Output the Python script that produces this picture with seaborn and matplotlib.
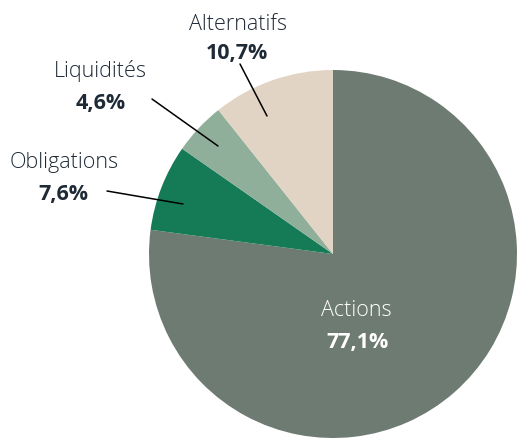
import matplotlib
matplotlib.use("Agg")
import matplotlib.pyplot as plt
import seaborn as sns

categories = ["Actions", "Obligations", "Liquidités", "Alternatifs"]
values = [77.1, 7.6, 4.6, 10.7]
pct_labels = ["77,1%", "7,6%", "4,6%", "10,7%"]
colors = ["#6e7b72", "#157b57", "#8faf9a", "#e2d4c4"]

sns.set_theme(style="white")
plt.rcParams["font.family"] = ["Open Sans", "DejaVu Sans"]

W, H = 517, 439
fig = plt.figure(figsize=(W / 100, H / 100), dpi=100)
ax = fig.add_axes([0, 0, 1, 1])

cx, cy, r = 333, H - 255, 184
ax.pie(values, colors=colors, startangle=90, counterclock=False,
       center=(cx, cy), radius=r, wedgeprops=dict(linewidth=0),
       frame=True)
ax.set_xlim(0, W)
ax.set_ylim(0, H)
ax.set_aspect("equal")
ax.axis("off")

txt = "#1e2a36"
# (label x, baseline y), (pct x, baseline y), leader line -- pixels from top
lab = {
    "Actions": ((356, 316), (357, 348), None),
    "Obligations": ((64, 168), (63, 200), ((107, 192), (183, 205))),
    "Liquidités": ((100, 77), (101, 109), ((152, 100), (218, 147))),
    "Alternatifs": ((238, 30), (237, 59), ((240, 65), (267, 117))),
}
for cat, pct in zip(categories, pct_labels):
    (lx, ly), (px, py), line = lab[cat]
    c = "white" if cat == "Actions" else txt
    ax.text(lx, H - ly, cat, ha="center", va="baseline", fontsize=15.5,
            color=c, fontweight="light")
    ax.text(px, H - py, pct, ha="center", va="baseline", fontsize=15.5,
            fontweight="bold", color=c)
    if line:
        (x0, y0), (x1, y1) = line
        ax.plot([x0, x1], [H - y0, H - y1], color="black", lw=1.1)

fig.savefig("out.png", dpi=100)
